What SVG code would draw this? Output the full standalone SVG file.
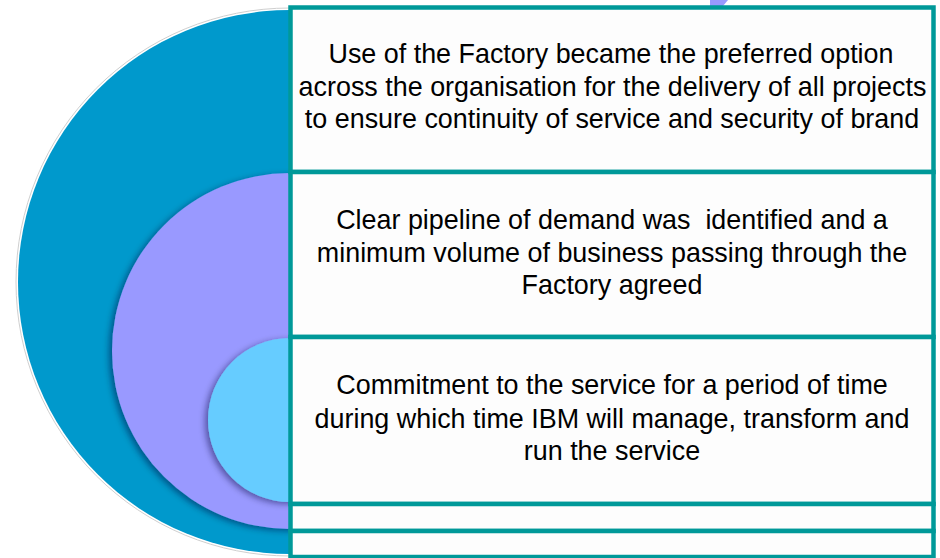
<svg xmlns="http://www.w3.org/2000/svg" width="940" height="558" viewBox="0 0 940 558">
  <defs>
    <filter id="shadow" x="-20%" y="-20%" width="140%" height="140%">
      <feDropShadow dx="-3" dy="2" stdDeviation="3" flood-color="#000033" flood-opacity="0.45"/>
    </filter>
    <style>
      .box { fill: #fdfdfd; stroke: #009999; stroke-width: 4.5; }
      .txt { font-family: "Liberation Sans", Arial, sans-serif; font-size: 26.9px; fill: #000000; text-anchor: middle; }
    </style>
  </defs>
  <rect width="940" height="558" fill="#ffffff"/>

  <g id="circles">
    <circle cx="290" cy="282" r="274" fill="none" stroke="#cfcfcf" stroke-width="1"/>
    <circle id="outer-circle" cx="290" cy="282" r="272" fill="#0099cc"/>
    <circle id="middle-circle" cx="290" cy="351" r="178" fill="#9999ff" filter="url(#shadow)"/>
    <circle id="inner-circle" cx="290" cy="420" r="82" fill="#66ccff" filter="url(#shadow)"/>
  </g>

  <polygon id="arrow-tip" points="710,0 728,0 723,6 710,6" fill="#9999ff"/>

  <g id="box1">
    <rect class="box" x="290.5" y="7.5" width="643" height="164.5"/>
    <text class="txt" x="611" y="63">Use of the Factory became the preferred option</text>
    <text class="txt" x="612.5" y="95.5">across the organisation for the delivery of all projects</text>
    <text class="txt" x="612" y="127.5">to ensure continuity of service and security of brand</text>
  </g>

  <g id="box2">
    <rect class="box" x="290.5" y="172" width="643" height="165"/>
    <text class="txt" x="612" y="228.5" xml:space="preserve">Clear pipeline of demand was  identified and a</text>
    <text class="txt" x="612" y="261.5">minimum volume of business passing through the</text>
    <text class="txt" x="612" y="294">Factory agreed</text>
  </g>

  <g id="box3">
    <rect class="box" x="290.5" y="337" width="643" height="167"/>
    <text class="txt" x="612" y="394">Commitment to the service for a period of time</text>
    <text class="txt" x="612" y="427.5">during which time IBM will manage, transform and</text>
    <text class="txt" x="612" y="459.5">run the service</text>
  </g>

  <g id="box4">
    <rect class="box" x="290.5" y="504" width="643" height="27"/>
  </g>

  <g id="box5">
    <rect class="box" x="290.5" y="531" width="643" height="26"/>
  </g>

  <g id="connectors"/>
</svg>
